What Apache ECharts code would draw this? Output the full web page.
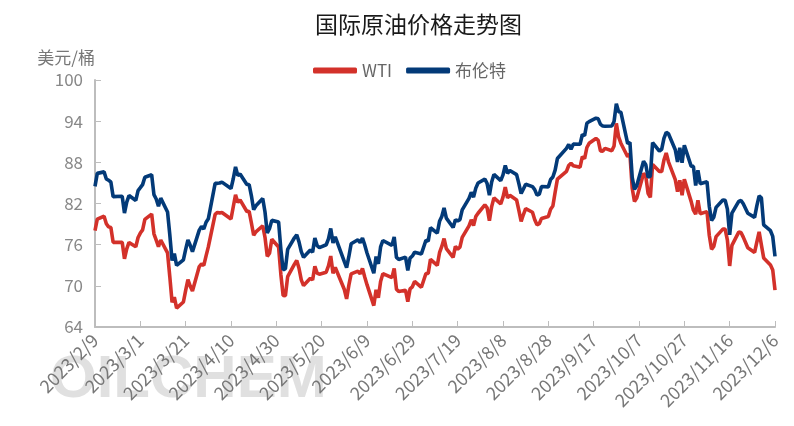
<!DOCTYPE html>
<html>
<head>
<meta charset="utf-8">
<script src="https://cdn.jsdelivr.net/npm/echarts@6/dist/echarts.min.js"></script>
<style>html,body{margin:0;padding:0;background:#fff}#c{width:794px;height:426px}</style>
</head>
<body>
<div id="c"></div>
<script>
// Category range (every calendar day, as on the original axis)
const firstDay = '2023/2/9';
const lastDay = '2023/12/6';
const yTicks = [64, 70, 76, 82, 88, 94, 100];

// Trading days (M/D, 2023)
const tradeDays = [
'2/9','2/10','2/13','2/14','2/15','2/16','2/17','2/21','2/22','2/23','2/24','2/27','2/28',
'3/1','3/2','3/3','3/6','3/7','3/8','3/9','3/10','3/13','3/14','3/15','3/16','3/17','3/20','3/21','3/22','3/23','3/24','3/27','3/28','3/29','3/30','3/31',
'4/3','4/4','4/5','4/6','4/10','4/11','4/12','4/13','4/14','4/17','4/18','4/19','4/20','4/21','4/24','4/25','4/26','4/27','4/28',
'5/1','5/2','5/3','5/4','5/5','5/8','5/9','5/10','5/11','5/12','5/15','5/16','5/17','5/18','5/19','5/22','5/23','5/24','5/25','5/26','5/30','5/31',
'6/1','6/2','6/5','6/6','6/7','6/8','6/9','6/12','6/13','6/14','6/15','6/16','6/20','6/21','6/22','6/23','6/26','6/27','6/28','6/29','6/30',
'7/3','7/5','7/6','7/7','7/10','7/11','7/12','7/13','7/14','7/17','7/18','7/19','7/20','7/21','7/24','7/25','7/26','7/27','7/28','7/31',
'8/1','8/2','8/3','8/4','8/7','8/8','8/9','8/10','8/11','8/14','8/15','8/16','8/17','8/18','8/21','8/22','8/23','8/24','8/25','8/28','8/29','8/30','8/31',
'9/1','9/5','9/6','9/7','9/8','9/11','9/12','9/13','9/14','9/15','9/18','9/19','9/20','9/21','9/22','9/25','9/26','9/27','9/28','9/29',
'10/2','10/3','10/4','10/5','10/6','10/9','10/10','10/11','10/12','10/13','10/16','10/17','10/18','10/19','10/20','10/23','10/24','10/25','10/26','10/27','10/30','10/31',
'11/1','11/2','11/3','11/6','11/7','11/8','11/9','11/10','11/13','11/14','11/15','11/16','11/17','11/20','11/21','11/22','11/24','11/27','11/28','11/29','11/30',
'12/1','12/4','12/5','12/6'
];

const wti = [
78.06,79.72,80.14,79.06,78.59,78.49,76.34,76.36,73.95,75.39,76.32,75.68,77.05,
77.69,78.16,79.68,80.46,77.58,76.66,75.72,76.68,74.80,71.33,67.61,68.35,66.74,67.64,69.33,70.90,69.96,69.26,72.81,73.20,72.97,74.37,75.67,
80.42,80.71,80.61,80.70,79.74,81.53,83.26,82.16,82.52,80.83,80.86,79.16,77.37,77.87,78.76,77.07,74.30,74.76,76.78,
75.66,71.66,68.60,68.56,71.34,73.16,73.71,72.56,70.87,70.04,71.11,70.86,72.83,71.86,71.69,71.99,72.91,74.34,71.83,72.67,69.46,68.09,
70.10,71.74,72.15,71.74,72.53,71.29,70.17,67.12,69.42,68.27,70.62,71.78,71.19,72.53,69.51,69.16,69.37,67.70,69.56,69.86,70.64,
69.79,71.79,71.80,73.86,72.99,74.83,75.75,76.89,75.42,74.15,75.75,75.35,75.63,77.07,78.74,79.63,78.78,80.09,80.58,81.80,
81.37,79.49,81.55,82.82,81.94,82.92,84.40,82.82,83.19,82.51,80.99,79.38,80.39,81.25,80.72,79.64,78.89,79.05,79.83,80.10,81.16,81.63,83.63,
85.55,86.69,87.54,87.87,87.51,87.29,88.84,88.52,90.16,90.77,91.48,91.20,89.66,89.63,90.03,89.68,90.39,93.68,91.71,90.79,
88.82,89.23,84.22,82.31,82.79,86.38,85.97,83.49,82.91,87.69,86.66,86.66,88.32,89.37,88.08,85.49,83.74,85.39,83.21,85.54,82.31,81.02,
80.44,82.46,80.51,80.82,77.37,75.33,75.74,77.17,78.26,78.26,76.66,72.90,75.89,77.83,77.77,77.10,75.54,74.86,76.41,77.86,75.96,
74.07,73.04,72.32,69.38
];

const brent = [
84.50,86.39,86.61,85.58,85.38,85.14,83.00,83.05,80.60,82.21,83.16,82.45,83.89,
84.31,84.75,85.83,86.18,83.29,82.66,81.59,82.78,80.77,77.45,73.69,74.70,72.97,73.79,75.32,76.69,75.91,74.99,78.12,78.65,78.28,79.27,79.77,
84.93,84.94,84.99,85.12,84.18,85.61,87.33,86.09,86.31,84.76,84.77,83.12,81.10,81.66,82.73,80.77,77.69,78.37,79.54,
79.31,75.32,72.33,72.50,75.30,77.01,77.44,76.41,74.98,74.17,75.23,74.91,76.96,75.86,75.58,75.99,76.84,78.36,76.26,77.12,73.54,72.66,
74.28,76.13,76.71,76.29,76.95,75.96,74.79,71.84,74.29,73.20,75.67,76.61,75.90,77.12,74.14,73.85,74.18,72.26,74.03,74.34,74.90,
74.65,76.65,76.52,78.47,77.69,79.40,80.11,81.36,79.87,78.50,79.63,79.46,79.64,81.07,82.74,83.64,82.92,84.24,84.99,85.56,
84.91,83.20,85.14,86.24,85.34,86.17,87.55,86.40,86.81,86.21,84.89,83.45,84.12,84.80,84.46,84.03,83.21,83.36,84.48,84.42,85.49,85.86,86.86,
88.55,90.04,90.60,89.92,90.65,90.64,92.06,91.88,93.70,93.93,94.43,94.34,93.53,93.30,93.27,93.29,93.96,96.55,95.38,95.31,
90.71,90.92,85.81,84.07,84.58,88.15,87.65,85.82,86.00,90.89,89.65,89.90,91.50,92.38,92.16,89.83,88.07,90.13,87.93,90.48,87.45,87.41,
84.63,86.85,84.89,85.18,81.61,79.54,80.01,81.43,82.52,82.47,81.18,77.42,80.61,82.32,82.45,81.96,80.58,79.98,81.68,83.10,82.83,
78.88,78.03,77.20,74.30
];

// Build calendar categories
const categories = [];
(function () {
  const p = s => { const a = s.split('/').map(Number); return new Date(a[0], a[1] - 1, a[2]); };
  const d = p(firstDay), end = p(lastDay);
  while (d <= end) {
    categories.push(d.getFullYear() + '/' + (d.getMonth() + 1) + '/' + d.getDate());
    d.setDate(d.getDate() + 1);
  }
})();
function align(values) {
  const out = categories.map(() => null);
  tradeDays.forEach((md, i) => {
    const idx = categories.indexOf('2023/' + md);
    if (idx >= 0) out[idx] = values[i];
  });
  return out;
}

const FONT = '"Noto Sans CJK SC", "Noto Sans", sans-serif';
const chart = echarts.init(document.getElementById('c'), null, { renderer: 'canvas' });
chart.setOption({
  animation: false,
  backgroundColor: '#fff',
  textStyle: { fontFamily: FONT },
  title: {
    text: '国际原油价格走势图',
    left: 310, top: 8,
    textStyle: { fontSize: 23, fontWeight: 'normal', color: '#1a1a1a', fontFamily: FONT }
  },
  legend: {
    left: 308, top: 57,
    itemWidth: 44, itemHeight: 6, itemGap: 14,
    icon: 'roundRect',
    textStyle: { fontSize: 17, color: '#666', fontFamily: FONT },
    data: ['WTI', '布伦特']
  },
  graphic: [{
    type: 'text', left: 50, top: 350, z: -10, silent: true,
    style: {
      text: 'OILCHEM',
      font: 'bold 60px "Liberation Sans", Arial, sans-serif',
      fill: '#e0e0e0'
    }
  }],
  grid: { left: 95, right: 19, top: 80, bottom: 99, containLabel: false },
  xAxis: {
    type: 'category',
    data: categories,
    boundaryGap: false,
    axisLine: { lineStyle: { color: '#bdbdbd', width: 2 } },
    axisTick: { show: true, inside: true, interval: 19, length: 6, lineStyle: { color: '#bdbdbd', width: 1 } },
    axisLabel: { interval: 19, rotate: 45, fontSize: 18, color: '#777', margin: 10, fontFamily: FONT },
    splitLine: { show: false }
  },
  yAxis: {
    type: 'value',
    min: yTicks[0], max: yTicks[yTicks.length - 1], interval: 6,
    name: '美元/桶',
    nameGap: 14,
    nameTextStyle: { fontSize: 17, color: '#777', align: 'right', fontFamily: FONT },
    axisLine: { show: true, lineStyle: { color: '#bdbdbd', width: 2 } },
    axisTick: { show: true, inside: true, length: 6, lineStyle: { color: '#bdbdbd' } },
    axisLabel: { fontSize: 17, color: '#888', margin: 12, fontFamily: FONT },
    splitLine: { show: false }
  },
  series: [
    {
      name: 'WTI', type: 'line', data: align(wti), connectNulls: true,
      showSymbol: false, symbol: 'none',
      lineStyle: { color: '#D3312A', width: 3.6 },
      itemStyle: { color: '#D3312A' }
    },
    {
      name: '布伦特', type: 'line', data: align(brent), connectNulls: true,
      showSymbol: false, symbol: 'none',
      lineStyle: { color: '#033A78', width: 3.6 },
      itemStyle: { color: '#033A78' }
    }
  ]
});
</script>
</body>
</html>
